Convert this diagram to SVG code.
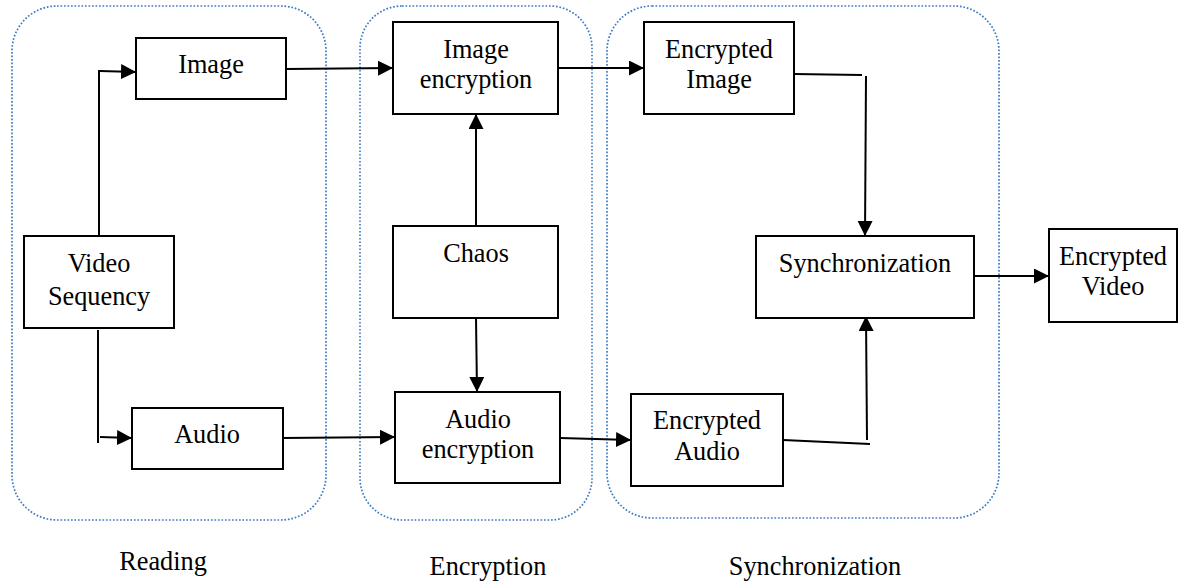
<svg xmlns="http://www.w3.org/2000/svg" width="1193" height="584" viewBox="0 0 1193 584">
<style>
.grp{fill:none;stroke:#3F7BC4;stroke-width:1.7;stroke-dasharray:1.7 1.8}
.box{fill:#fff;stroke:#000;stroke-width:2}
.ln{fill:none;stroke:#000;stroke-width:2}
text{font-family:"Liberation Serif","Times New Roman",serif;font-size:26.3px;fill:#000;text-anchor:middle}
</style>
<defs>
<marker id="ah" markerUnits="userSpaceOnUse" markerWidth="16" markerHeight="16" refX="15" refY="7.5" orient="auto">
<path d="M0,0 L15,7.5 L0,15 z" fill="#000"/>
</marker>
</defs>
<rect width="1193" height="584" fill="#fff"/>
<g id="groups">
<rect class="grp" x="12" y="6" width="314" height="514" rx="45"/>
<rect class="grp" x="360" y="6" width="232" height="514" rx="42"/>
<rect class="grp" x="607" y="6" width="392" height="512" rx="45"/>
<text x="163" y="570">Reading</text>
<text x="488" y="575">Encryption</text>
<text x="815" y="575">Synchronization</text>
</g>
<g id="connectors">
<path class="ln" d="M99,236 L99,70"/>
<path class="ln" d="M100,71 L136,72" marker-end="url(#ah)"/>
<path class="ln" d="M98,330 L98,443"/>
<path class="ln" d="M100,437 L132,438" marker-end="url(#ah)"/>
<path class="ln" d="M286,69 L393,68" marker-end="url(#ah)"/>
<path class="ln" d="M558,68 L644,68" marker-end="url(#ah)"/>
<path class="ln" d="M476,226 L476,114" marker-end="url(#ah)"/>
<path class="ln" d="M476,318 L477,392" marker-end="url(#ah)"/>
<path class="ln" d="M283,438 L395,437" marker-end="url(#ah)"/>
<path class="ln" d="M560,438 L631,440" marker-end="url(#ah)"/>
<path class="ln" d="M794,74 L862,75"/>
<path class="ln" d="M866,76 L865,236" marker-end="url(#ah)"/>
<path class="ln" d="M783,440 L870,444"/>
<path class="ln" d="M867,440 L866,316" marker-end="url(#ah)"/>
<path class="ln" d="M974,276 L1049,276" marker-end="url(#ah)"/>
</g>
<g id="video">
<rect class="box" x="24" y="236" width="150" height="92"/>
<text x="99" y="272">Video</text>
<text x="99" y="305">Sequency</text>
</g>
<g id="image">
<rect class="box" x="136" y="38" width="150" height="61"/>
<text x="211" y="73">Image</text>
</g>
<g id="audio">
<rect class="box" x="132" y="408" width="151" height="61"/>
<text x="207" y="443">Audio</text>
</g>
<g id="imageEncryption">
<rect class="box" x="393" y="22" width="165" height="92"/>
<text x="476" y="58">Image</text>
<text x="476" y="88">encryption</text>
</g>
<g id="chaos">
<rect class="box" x="393" y="226" width="165" height="92"/>
<text x="476" y="262">Chaos</text>
</g>
<g id="audioEncryption">
<rect class="box" x="395" y="392" width="165" height="91"/>
<text x="478" y="428">Audio</text>
<text x="478" y="458">encryption</text>
</g>
<g id="encryptedImage">
<rect class="box" x="644" y="22" width="150" height="92"/>
<text x="719" y="58">Encrypted</text>
<text x="719" y="88">Image</text>
</g>
<g id="encryptedAudio">
<rect class="box" x="631" y="394" width="152" height="92"/>
<text x="707" y="429">Encrypted</text>
<text x="707" y="460">Audio</text>
</g>
<g id="synchronization">
<rect class="box" x="756" y="236" width="218" height="82"/>
<text x="865" y="272">Synchronization</text>
</g>
<g id="encryptedVideo">
<rect class="box" x="1049" y="229" width="128" height="93"/>
<text x="1113" y="265">Encrypted</text>
<text x="1113" y="295">Video</text>
</g>
</svg>
